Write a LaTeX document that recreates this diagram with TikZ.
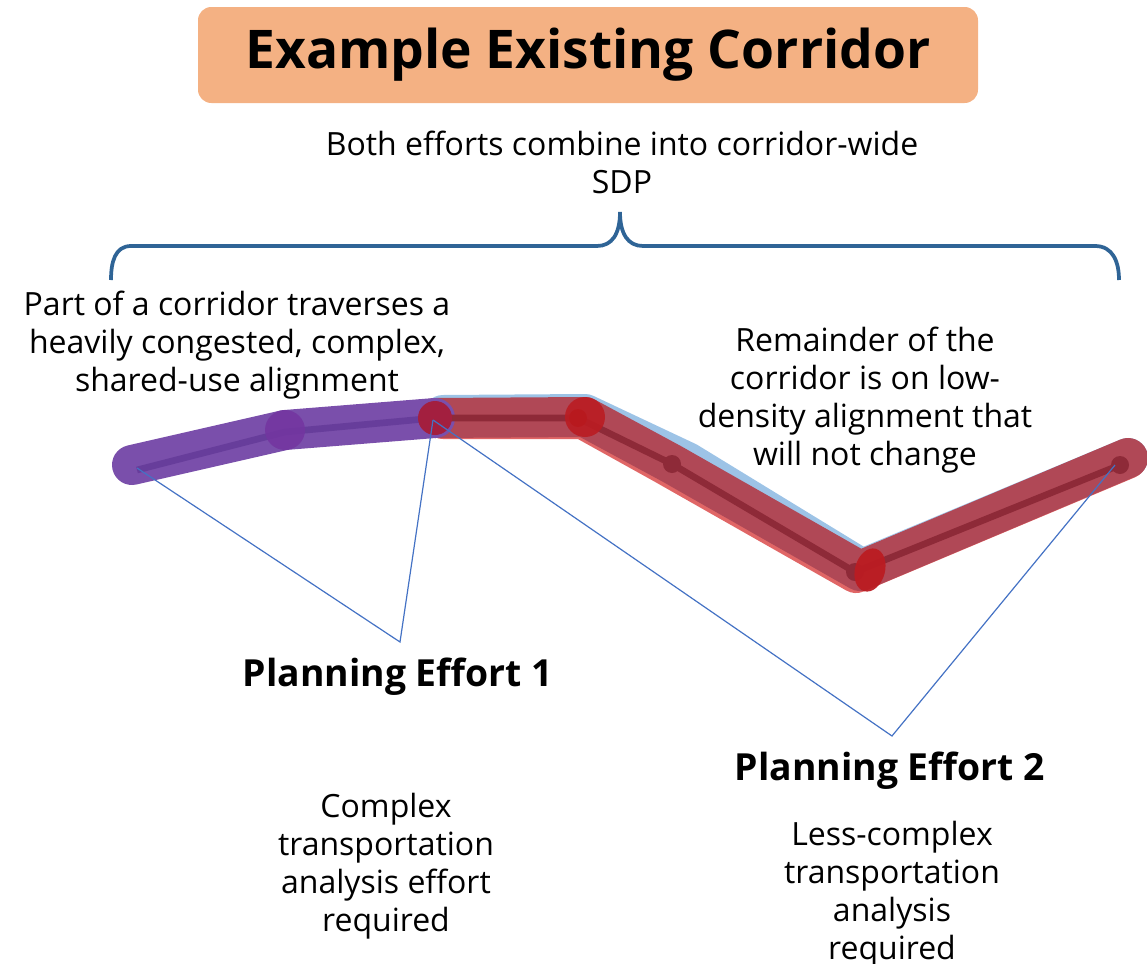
\documentclass[tikz,border=0pt]{standalone}
\usepackage{fontspec}
\setmainfont{Open Sans}
\tikzset{
    band/.style={line width=30pt,line cap=round,line join=round},
    core/.style={line width=5pt,color=darkline,line join=round},
    leader/.style={color=leaderblue,line width=0.9pt},
    caption/.style={align=center,font=\fontsize{24}{28.5}\selectfont,inner sep=0pt},
    effort/.style={font=\fontsize{28}{33}\selectfont\bfseries,inner sep=0pt},
}
\definecolor{titlefill}{HTML}{F4B183}
\definecolor{bracecolor}{HTML}{2F6496}
\definecolor{leaderblue}{HTML}{4472C4}
\definecolor{darkline}{HTML}{8E2A38}
\definecolor{darkpurple}{HTML}{673D9B}
\definecolor{bandblue}{HTML}{9DC3E6}
\definecolor{bandred}{HTML}{E06666}
\definecolor{bandmain}{HTML}{B04856}
\definecolor{bandpurple}{HTML}{7A4FAB}
\definecolor{stoppurple}{HTML}{7335A0}
\definecolor{stopcrimson}{HTML}{A31F3F}
\definecolor{stopred}{HTML}{BB1C22}
\begin{document}
\begin{tikzpicture}[x=0.75pt,y=-0.75pt]
    \useasboundingbox (0,0) rectangle (1147,964);

    % title and brace
    \node [fill=titlefill,rounded corners=10pt,minimum width=585pt,minimum height=72pt,
        font=\fontsize{40}{48}\selectfont\bfseries,inner sep=0pt] (title) at (588,55) {\raisebox{-4pt}{Example Existing Corridor}};
    \node [caption] (sdp) at (622,162) {Both efforts combine into corridor-wide\\SDP};
    \coordinate (braceleft) at (111,280);
    \coordinate (braceright) at (1119,280);
    \coordinate (bracetip) at (620,212);
    \draw [bracecolor,line width=2.8pt]
        (braceleft) .. controls (111,262) and (115,246) .. (131,246)
        -- (597,246) .. controls (612,246) and (620,234) .. (bracetip)
        .. controls (620,234) and (628,246) .. (643,246)
        -- (1095,246) .. controls (1113,246) and (1119,262) .. (braceright);

    % corridor stops
    \coordinate (a) at (132,465);
    \coordinate (b) at (285,430);
    \coordinate (c) at (435,418);
    \coordinate (d) at (585,417);
    \coordinate (e) at (672,464);
    \coordinate (f) at (860,571);
    \coordinate (g) at (1128,458);

    % bands
    \draw [band,bandblue] (443,415) -- (585,414) -- (687,462) -- (862,569) -- (g);
    \draw [band,bandred] (443,419) -- (583,419) -- (664,464) -- (856,573) -- (1127,459);
    \draw [band,bandmain] (c) -- (d) -- (e) -- (f) -- (g);
    \draw [band,bandpurple] (a) -- (b) -- (c);

    % centre line and stop marks
    \draw [core,color=darkpurple] (137,470) -- (285,432) -- (c);
    \draw [core] (c) -- (578,418) -- (e) -- (855,572) -- (1120,465);
    \fill [darkline] (e) circle (9) (855,572) circle (9) (1120,465) circle (9);
    \fill [red!65!black] (578,418) circle (9);
    \fill [stoppurple,opacity=.85] (b) circle (20);
    \fill [stopcrimson] (c) circle (17);
    \fill [stopred,opacity=.9] (d) circle (20);
    \fill [stopred,opacity=.95,rotate around={-15:(870,570)}] (870,570) ellipse (15 and 22);

    % leaders
    \node [effort] (effort1) at (398,677) {Planning Effort 1};
    \node [effort] (effort2) at (890,771) {Planning Effort 2};
    \coordinate (tip1) at (400,642);
    \coordinate (tip2) at (892,736);
    \coordinate (p1) at (137,468);
    \coordinate (p2) at (433,420);
    \coordinate (p3) at (1115,465);
    \draw [leader] (p1) -- (tip1) -- (p2);
    \draw [leader] (p2) -- (tip2) -- (p3);

    % captions
    \node [caption] (part) at (237,345) {Part of a corridor traverses a\\heavily congested, complex,\\shared-use alignment};
    \node [caption] (rest) at (865,400) {Remainder of the\\corridor is on low-\\density alignment that\\will not change};
    \node [caption] (complex) at (386,866) {Complex\\transportation\\analysis effort\\required};
    \node [caption] (less) at (892,894) {Less-complex\\transportation\\analysis\\required};
\end{tikzpicture}
\end{document}
